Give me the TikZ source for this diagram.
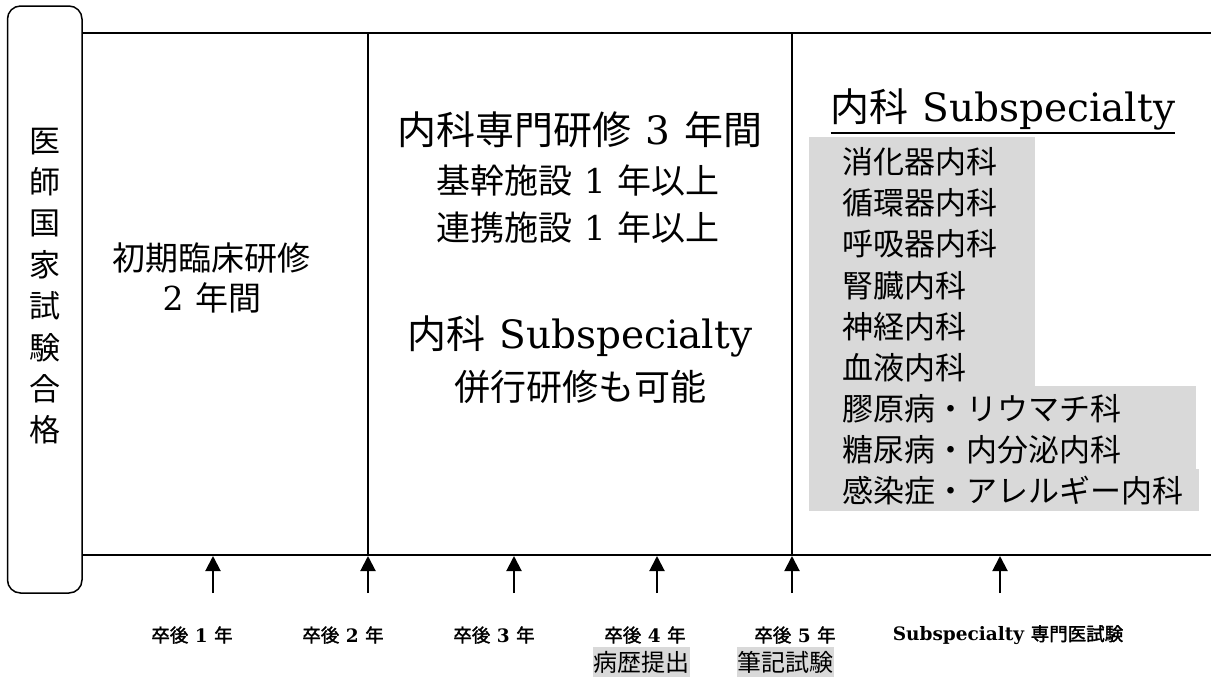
\documentclass[tikz,border=0pt]{standalone}
\usepackage{fontspec}
\setmainfont{DejaVu Serif}
\newfontfamily\jp{Noto Sans CJK JP}
\newfontfamily\jpb[FakeBold=1.8]{Noto Sans CJK JP}
\usetikzlibrary{arrows.meta}
\definecolor{hl}{HTML}{D9D9D9}
\newcommand\jt[1]{{\jp #1}}
\newcommand\jbt[1]{{\mdseries\jpb #1}}
\newcommand\gap{\hspace{0.35em}}
\begin{document}
\begin{tikzpicture}[x=1pt,y=-1pt,
  frame/.style={line width=1.5pt},
  arr/.style={line width=2pt,-{Triangle[width=15pt,length=15pt]}},
  big/.style={font=\fontsize{39}{46}\selectfont, inner sep=0pt},
  mid/.style={font=\fontsize{34}{40}\selectfont, inner sep=0pt},
  item/.style={font=\fontsize{31}{36}\selectfont\jp, anchor=west, inner sep=0pt},
  lab/.style={font=\fontsize{18.5}{22}\selectfont\bfseries, inner sep=0pt},
  hlbox/.style={fill=hl, inner sep=0pt, minimum width=97pt, minimum height=30pt, font=\fontsize{24}{28}\selectfont\jp},
]
\useasboundingbox (0,0) rectangle (1211,678);
% left rounded box
\node[draw, frame, rounded corners=13pt, minimum width=74.5pt, minimum height=587pt, inner sep=0pt] (kokka) at (44.75,299.5) {};
\node[inner sep=0pt, align=center, font=\fontsize{31}{41.4}\selectfont\jp] (kokkatxt) at (44.5,286) {医\\師\\国\\家\\試\\験\\合\\格};
% frame lines
\coordinate (tl) at (82,33);
\coordinate (tr) at (1211,33);
\coordinate (bl) at (82,555);
\coordinate (br) at (1211,555);
\coordinate (v1t) at (368,33);
\coordinate (v1b) at (368,555);
\coordinate (v2t) at (792,33);
\coordinate (v2b) at (792,555);
\draw[frame] (tl) -- (tr);
\draw[frame] (bl) -- (br);
\draw[frame] (v1t) -- (v1b);
\draw[frame] (v2t) -- (v2b);
% left column
\node[font=\fontsize{33}{40}\selectfont\jp, inner sep=0pt] (shoki) at (211,258) {初期臨床研修};
\node[font=\fontsize{33}{40}\selectfont, inner sep=0pt] (shoki2) at (212,298) {2\gap\jt{年間}};
% middle column
\node[big] (naika) at (580,130) {\jt{内科専門研修}\gap 3\gap\jt{年間}};
\node[mid] (kikan) at (578,181) {\jt{基幹施設}\gap 1\gap\jt{年以上}};
\node[mid] (renkei) at (578,228) {\jt{連携施設}\gap 1\gap\jt{年以上}};
\node[big] (subsp) at (580,336) {\jt{内科}\gap Subspecialty};
\node[mid, font=\fontsize{36}{40}\selectfont\jp] (heiko) at (580,387) {併行研修も可能};
% right column
\node[big] (subt) at (1003,109) {\jt{内科}\gap Subspecialty};
\draw[frame] ([yshift=-3pt]subt.south west) -- ([yshift=-3pt]subt.south east);
\fill[hl] (809,137) rectangle (1035,386);
\fill[hl] (809,386) rectangle (1196,469);
\fill[hl] (809,469) rectangle (1199,511);
\node[item] (i1) at (842,162) {消化器内科};
\node[item] (i2) at (842,203.1) {循環器内科};
\node[item] (i3) at (842,244.2) {呼吸器内科};
\node[item] (i4) at (842,285.3) {腎臓内科};
\node[item] (i5) at (842,326.4) {神経内科};
\node[item] (i6) at (842,367.5) {血液内科};
\node[item] (i7) at (842,408.6) {膠原病・リウマチ科};
\node[item] (i8) at (842,449.7) {糖尿病・内分泌内科};
\node[item] (i9) at (842,490.8) {感染症・アレルギー内科};
% arrows
\foreach \n/\x in {1/213,2/368,3/514,4/657,5/792,6/1000}{
  \coordinate (s\n) at (\x,593);
  \coordinate (e\n) at (\x,556);
  \draw[arr] (s\n) -- (e\n);
}
% labels
\node[lab] (y1) at (192,635) {\jbt{卒後}\gap 1\gap\jbt{年}};
\node[lab] (y2) at (343,635) {\jbt{卒後}\gap 2\gap\jbt{年}};
\node[lab] (y3) at (494,635) {\jbt{卒後}\gap 3\gap\jbt{年}};
\node[lab] (y4) at (645,635) {\jbt{卒後}\gap 4\gap\jbt{年}};
\node[lab] (y5) at (795,635) {\jbt{卒後}\gap 5\gap\jbt{年}};
\node[lab] (y6) at (1008,635) {Subspecialty\gap\jbt{専門医試験}};
\node[hlbox] (byoreki) at (641.5,662) {病歴提出};
\node[hlbox] (hikki) at (785.5,662) {筆記試験};
\end{tikzpicture}
\end{document}
